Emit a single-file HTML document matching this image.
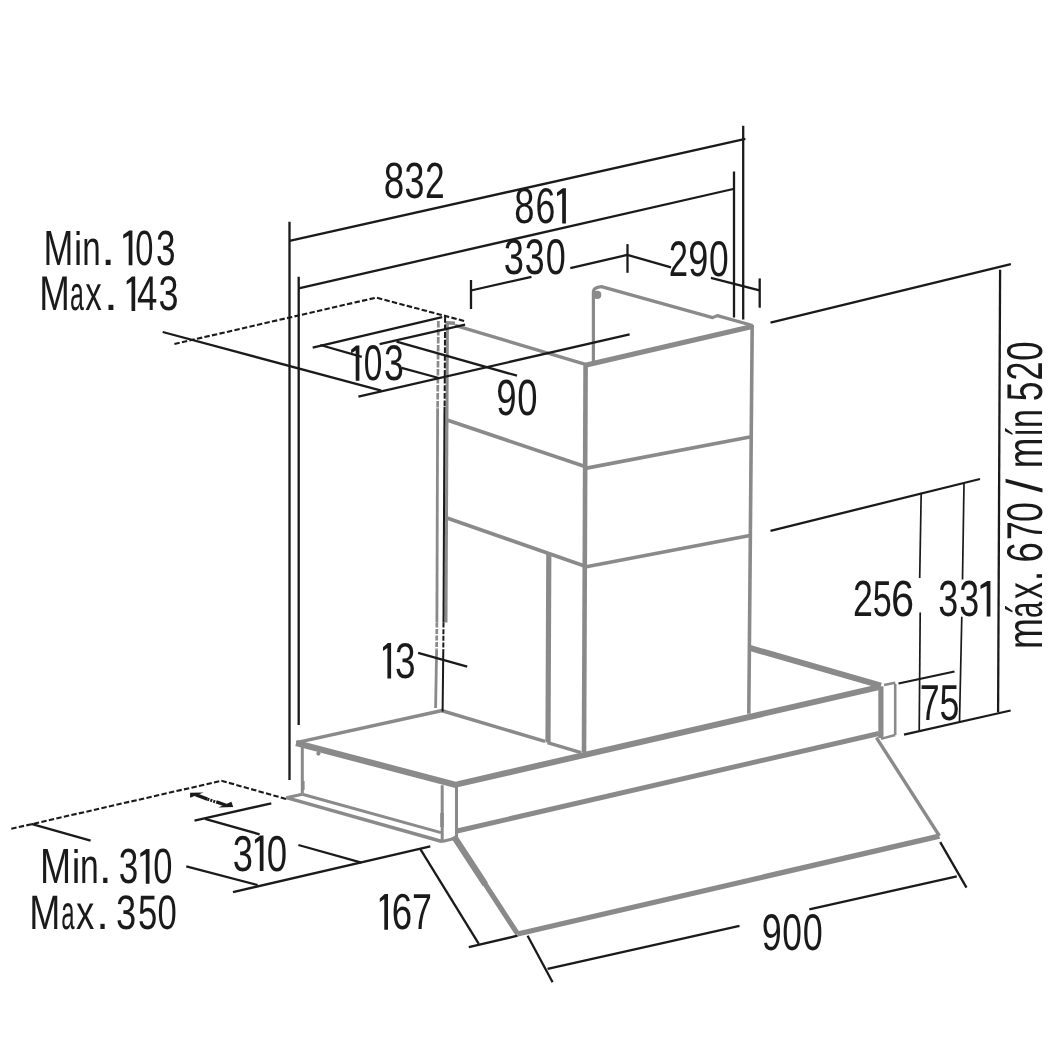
<!DOCTYPE html>
<html><head><meta charset="utf-8"><style>
html,body{margin:0;padding:0;background:#fff;}
svg{display:block;will-change:transform;}
text{font-family:"Liberation Sans",sans-serif;text-rendering:geometricPrecision;}
</style></head><body>
<svg width="1063" height="1063" viewBox="0 0 1063 1063">
<rect width="1063" height="1063" fill="#fff"/>
<path d="M593.4,361.3 L593.4,291.5 Q593.6,287.4 601.4,286.6 L712.6,317.6 L717.3,315.6 L752.6,325.5" fill="none" stroke="#8a8a8a" stroke-width="3.2" stroke-linejoin="round"/>
<circle cx="597.2" cy="294.9" r="4.1" fill="#8a8a8a"/>
<line x1="455" y1="325.4" x2="585.5" y2="364.3" stroke="#8a8a8a" stroke-width="3.4"/>
<path d="M445.4,321 L455,321.5 L455,325 L445.4,324.5Z" fill="#8a8a8a"/>
<line x1="447.4" y1="322.6" x2="446" y2="622.6" stroke="#8a8a8a" stroke-width="3.0"/>
<line x1="585.3" y1="365.2" x2="752.2" y2="326.5" stroke="#8a8a8a" stroke-width="5.0"/>
<line x1="585.6" y1="364" x2="584" y2="752.6" stroke="#8a8a8a" stroke-width="4.6"/>
<line x1="752.2" y1="325" x2="748.8" y2="713.8" stroke="#8a8a8a" stroke-width="3.6"/>
<line x1="447" y1="420" x2="585" y2="466.6" stroke="#8a8a8a" stroke-width="3.7"/>
<line x1="585.3" y1="468.4" x2="751.2" y2="436.8" stroke="#8a8a8a" stroke-width="3.7"/>
<line x1="446.3" y1="517.7" x2="584.5" y2="566" stroke="#8a8a8a" stroke-width="3.7"/>
<line x1="585" y1="567" x2="749.9" y2="535.5" stroke="#8a8a8a" stroke-width="3.7"/>
<line x1="548.8" y1="553" x2="548" y2="742.6" stroke="#8a8a8a" stroke-width="5.2"/>
<line x1="547.5" y1="742.6" x2="581" y2="752.6" stroke="#8a8a8a" stroke-width="3.4"/>
<line x1="441.3" y1="710.5" x2="545" y2="741.4" stroke="#8a8a8a" stroke-width="3.4"/>
<line x1="438.4" y1="321" x2="437.6" y2="408.3" stroke="#8a8a8a" stroke-width="2.7" stroke-dasharray="6.5,1.5"/>
<line x1="437.6" y1="408.3" x2="436.9" y2="622.6" stroke="#8a8a8a" stroke-width="2.8"/>
<line x1="436.9" y1="622.6" x2="436.6" y2="649.7" stroke="#8a8a8a" stroke-width="2.7" stroke-dasharray="5,1.5"/>
<line x1="436.6" y1="649.7" x2="435.6" y2="708" stroke="#8a8a8a" stroke-width="2.8"/>
<line x1="296.3" y1="742.6" x2="442.2" y2="710.5" stroke="#8a8a8a" stroke-width="3.4"/>
<line x1="296.1" y1="743" x2="457" y2="785.2" stroke="#8a8a8a" stroke-width="6.3"/>
<line x1="457" y1="784.3" x2="880.1" y2="686.8" stroke="#8a8a8a" stroke-width="6.0"/>
<line x1="749" y1="647.7" x2="881" y2="685.7" stroke="#8a8a8a" stroke-width="6.0"/>
<line x1="880.9" y1="686.3" x2="880.9" y2="738" stroke="#8a8a8a" stroke-width="5.2"/>
<line x1="895.2" y1="683.8" x2="895.2" y2="735" stroke="#8a8a8a" stroke-width="2.6"/>
<line x1="880.9" y1="738.8" x2="895.2" y2="735" stroke="#8a8a8a" stroke-width="2.4"/>
<line x1="884" y1="685" x2="895.2" y2="682.7" stroke="#8a8a8a" stroke-width="2.4"/>
<line x1="456" y1="831.2" x2="878.9" y2="733.5" stroke="#8a8a8a" stroke-width="5.0"/>
<line x1="453.8" y1="836.3" x2="485.2" y2="884.3" stroke="#8a8a8a" stroke-width="6.3"/>
<line x1="484.5" y1="883.2" x2="517.6" y2="933.9" stroke="#8a8a8a" stroke-width="5.2"/>
<line x1="876.4" y1="737.6" x2="939.4" y2="835.8" stroke="#8a8a8a" stroke-width="3.4"/>
<line x1="517.6" y1="934" x2="939.4" y2="836.2" stroke="#8a8a8a" stroke-width="5.3"/>
<line x1="302.3" y1="746.8" x2="302.3" y2="793.3" stroke="#8a8a8a" stroke-width="3.0"/>
<line x1="286.3" y1="797.7" x2="442" y2="841.5" stroke="#8a8a8a" stroke-width="3.4"/>
<line x1="302.3" y1="794.2" x2="441" y2="832.6" stroke="#8a8a8a" stroke-width="3.0"/>
<line x1="286.3" y1="797.7" x2="302.3" y2="794.2" stroke="#8a8a8a" stroke-width="3.0"/>
<line x1="442.2" y1="785.2" x2="442.2" y2="841.5" stroke="#8a8a8a" stroke-width="3.0"/>
<line x1="456.5" y1="783.4" x2="456.5" y2="838" stroke="#8a8a8a" stroke-width="3.0"/>
<line x1="442" y1="841.5" x2="456.5" y2="838" stroke="#8a8a8a" stroke-width="3.0"/>
<circle cx="318.4" cy="753.6" r="2.1" fill="#8a8a8a"/>
<line x1="289.5" y1="221.7" x2="289.5" y2="780" stroke="#1a1a1a" stroke-width="2.3"/>
<line x1="298.7" y1="276.7" x2="298.7" y2="725" stroke="#1a1a1a" stroke-width="2.3"/>
<line x1="289.5" y1="240.8" x2="745.4" y2="138.9" stroke="#1a1a1a" stroke-width="2.3"/>
<line x1="298.7" y1="288.3" x2="733.2" y2="189" stroke="#1a1a1a" stroke-width="2.3"/>
<line x1="743.2" y1="125.8" x2="743.2" y2="319.5" stroke="#1a1a1a" stroke-width="2.3"/>
<line x1="734" y1="171.5" x2="734" y2="317.5" stroke="#1a1a1a" stroke-width="2.3"/>
<line x1="471" y1="280" x2="471" y2="309" stroke="#1a1a1a" stroke-width="2.3"/>
<line x1="471" y1="290.5" x2="531.5" y2="276.8" stroke="#1a1a1a" stroke-width="2.3"/>
<line x1="570.3" y1="268.1" x2="627.4" y2="254.9" stroke="#1a1a1a" stroke-width="2.3"/>
<line x1="627.5" y1="244.1" x2="627.5" y2="272.8" stroke="#1a1a1a" stroke-width="2.3"/>
<line x1="627.4" y1="254.9" x2="671" y2="267.4" stroke="#1a1a1a" stroke-width="2.3"/>
<line x1="710.9" y1="277.9" x2="759.5" y2="290.3" stroke="#1a1a1a" stroke-width="2.3"/>
<line x1="759.7" y1="278.4" x2="759.7" y2="307.7" stroke="#1a1a1a" stroke-width="2.3"/>
<line x1="770.5" y1="322.6" x2="1010.9" y2="264.2" stroke="#1a1a1a" stroke-width="2.3"/>
<line x1="1000.1" y1="269.8" x2="998.1" y2="712.2" stroke="#1a1a1a" stroke-width="2.3"/>
<line x1="770.5" y1="530.8" x2="980" y2="479" stroke="#1a1a1a" stroke-width="2.3"/>
<line x1="921.2" y1="492.8" x2="919.7" y2="578" stroke="#1a1a1a" stroke-width="1.7"/>
<line x1="920.2" y1="612.4" x2="919.2" y2="730.5" stroke="#1a1a1a" stroke-width="1.7"/>
<line x1="964" y1="483.8" x2="962.5" y2="579.5" stroke="#1a1a1a" stroke-width="1.7"/>
<line x1="961.8" y1="616.8" x2="959.5" y2="722.6" stroke="#1a1a1a" stroke-width="1.7"/>
<line x1="898.5" y1="683.5" x2="954.5" y2="671.5" stroke="#1a1a1a" stroke-width="2.3"/>
<line x1="904" y1="734.6" x2="1010.6" y2="710.5" stroke="#1a1a1a" stroke-width="2.3"/>
<line x1="358.4" y1="396.7" x2="629.6" y2="334.3" stroke="#1a1a1a" stroke-width="2.3"/>
<line x1="162.7" y1="332" x2="381.3" y2="390.7" stroke="#1a1a1a" stroke-width="2.3"/>
<line x1="396.5" y1="341.6" x2="517" y2="375.7" stroke="#1a1a1a" stroke-width="2.3"/>
<line x1="312.7" y1="347.6" x2="442.2" y2="317.1" stroke="#1a1a1a" stroke-width="2.3"/>
<line x1="379.6" y1="344.2" x2="465.1" y2="324.7" stroke="#1a1a1a" stroke-width="2.3"/>
<line x1="320.3" y1="345" x2="361.8" y2="356.9" stroke="#1a1a1a" stroke-width="2.3"/>
<line x1="401.6" y1="367.9" x2="438.8" y2="378" stroke="#1a1a1a" stroke-width="2.3"/>
<polyline points="174.4,344 376.2,297.6 464.5,321.1" fill="none" stroke="#1a1a1a" stroke-width="2.1" stroke-dasharray="5.4,2.3"/>
<polyline points="11.3,828.8 221.5,780.8 288,799.5" fill="none" stroke="#1a1a1a" stroke-width="2.1" stroke-dasharray="5.4,2.3"/>
<line x1="31.3" y1="823.8" x2="90.6" y2="840.6" stroke="#1a1a1a" stroke-width="2.3"/>
<line x1="194.5" y1="820.6" x2="271.3" y2="803.3" stroke="#1a1a1a" stroke-width="2.3"/>
<line x1="205" y1="818.8" x2="259.6" y2="834.3" stroke="#1a1a1a" stroke-width="2.3"/>
<line x1="298.4" y1="845" x2="361.4" y2="862.6" stroke="#1a1a1a" stroke-width="2.3"/>
<line x1="233" y1="892.1" x2="430.3" y2="846.3" stroke="#1a1a1a" stroke-width="2.3"/>
<line x1="186.3" y1="866.4" x2="257.6" y2="885.1" stroke="#1a1a1a" stroke-width="2.3"/>
<line x1="420.2" y1="848.8" x2="478.8" y2="943.9" stroke="#1a1a1a" stroke-width="2.3"/>
<line x1="468.8" y1="947.2" x2="517.6" y2="935.7" stroke="#1a1a1a" stroke-width="2.3"/>
<line x1="527.6" y1="935.7" x2="552.6" y2="982.2" stroke="#1a1a1a" stroke-width="2.3"/>
<line x1="547.6" y1="968.9" x2="739.5" y2="925.9" stroke="#1a1a1a" stroke-width="2.3"/>
<line x1="809.3" y1="909.3" x2="956.8" y2="876.3" stroke="#1a1a1a" stroke-width="2.3"/>
<line x1="940.2" y1="842.2" x2="966.5" y2="887.7" stroke="#1a1a1a" stroke-width="2.3"/>
<line x1="418.1" y1="652.8" x2="467.2" y2="666.6" stroke="#1a1a1a" stroke-width="2.3"/>
<line x1="445.1" y1="316.9" x2="444.6" y2="407" stroke="#1a1a1a" stroke-width="2.0" stroke-dasharray="5.8,1.8"/>
<line x1="444.5" y1="407" x2="443.5" y2="622.6" stroke="#1a1a1a" stroke-width="2.0"/>
<line x1="443.5" y1="622.6" x2="443.3" y2="649.7" stroke="#1a1a1a" stroke-width="2.0" stroke-dasharray="5,1.6"/>
<line x1="443.3" y1="649.7" x2="442.6" y2="711.5" stroke="#1a1a1a" stroke-width="2.0"/>
<path d="M190.05,792.7 L203.6,792.4 L190.05,797.8Z" fill="#1a1a1a"/>
<line x1="195.5" y1="794.6" x2="207.4" y2="799.1" stroke="#1a1a1a" stroke-width="3.3"/>
<line x1="207.4" y1="799.1" x2="216.6" y2="802.3" stroke="#1a1a1a" stroke-width="3.0" stroke-dasharray="2.0,1.1"/>
<line x1="216.4" y1="801.9" x2="226" y2="805.2" stroke="#1a1a1a" stroke-width="3.3"/>
<path d="M231.4,801.8 L233.2,807.1 L218.3,807.5Z" fill="#1a1a1a"/>
<rect x="301" y="781" width="3.6" height="9" fill="#8a8a8a"/>
<rect x="440.2" y="813" width="3.6" height="14" fill="#8a8a8a"/>
<g fill="#1a1a1a" font-family="Liberation Sans">
<text transform="translate(383.64,197.79) scale(0.7219,1)" font-size="50.99">8</text>
<text transform="translate(404.56,197.79) scale(0.7052,1)" font-size="50.99">3</text>
<text transform="translate(424.93,197.79) scale(0.6940,1)" font-size="50.99">2</text>
<text transform="translate(514.26,223.00) scale(0.7256,1)" font-size="50.14">8</text>
<text transform="translate(535.52,223.00) scale(0.7110,1)" font-size="50.14">6</text>
<path d="M565.90,188.20 L565.90,223.50 L562.20,223.50 L562.20,193.20 L557.00,196.20 L557.00,192.50 L562.70,188.20Z"/>
<text transform="translate(503.84,274.30) scale(0.7277,1)" font-size="50.00">3</text>
<text transform="translate(524.87,274.30) scale(0.7149,1)" font-size="50.00">3</text>
<text transform="translate(545.66,274.30) scale(0.7200,1)" font-size="50.00">0</text>
<text transform="translate(668.86,275.70) scale(0.6926,1)" font-size="50.14">2</text>
<text transform="translate(688.37,275.70) scale(0.7206,1)" font-size="50.14">9</text>
<text transform="translate(708.99,275.70) scale(0.7054,1)" font-size="50.14">0</text>
<text transform="translate(43.43,264.71) scale(0.7267,1)" font-size="49.30">M</text>
<text transform="translate(73.92,264.71) scale(0.7438,0.95)" font-size="49.30">i</text>
<text transform="translate(82.24,264.71) scale(0.6730,1)" font-size="49.30">n</text>
<text transform="translate(100.96,264.71) scale(1.0463,1)" font-size="49.30">.</text>
<path d="M132.40,230.50 L132.40,265.20 L128.70,265.20 L128.70,235.50 L123.20,238.50 L123.20,234.80 L129.20,230.50Z"/>
<text transform="translate(135.29,264.71) scale(0.6620,1)" font-size="49.30">0</text>
<text transform="translate(156.10,264.71) scale(0.7122,1)" font-size="49.30">3</text>
<text transform="translate(39.16,310.41) scale(0.7534,1)" font-size="48.73">M</text>
<text transform="translate(69.88,310.41) scale(0.5110,1)" font-size="48.73">a</text>
<text transform="translate(85.31,310.41) scale(0.6767,1)" font-size="48.73">x</text>
<text transform="translate(103.76,310.41) scale(1.0584,1)" font-size="48.73">.</text>
<path d="M135.20,276.60 L135.20,310.90 L131.50,310.90 L131.50,281.60 L126.70,284.60 L126.70,280.90 L132.00,276.60Z"/>
<text transform="translate(137.09,310.41) scale(0.7510,1)" font-size="48.73">4</text>
<text transform="translate(158.46,310.41) scale(0.7379,1)" font-size="48.73">3</text>
<path d="M359.40,345.50 L359.40,380.70 L355.70,380.70 L355.70,350.50 L351.10,353.50 L351.10,349.80 L356.20,345.50Z"/>
<text transform="translate(363.86,380.20) scale(0.6695,1)" font-size="50.00">0</text>
<text transform="translate(383.97,380.20) scale(0.7149,1)" font-size="50.00">3</text>
<text transform="translate(496.15,414.99) scale(0.7210,1)" font-size="50.70">9</text>
<text transform="translate(517.24,414.99) scale(0.7183,1)" font-size="50.70">0</text>
<path d="M391.10,643.00 L391.10,678.40 L387.40,678.40 L387.40,648.00 L383.00,651.00 L383.00,647.30 L387.90,643.00Z"/>
<text transform="translate(395.02,677.90) scale(0.7363,1)" font-size="50.28">3</text>
<text transform="translate(853.11,616.09) scale(0.7065,1)" font-size="50.70">2</text>
<text transform="translate(872.64,616.09) scale(0.6726,1)" font-size="50.70">5</text>
<text transform="translate(890.92,616.09) scale(0.8189,1)" font-size="50.70">6</text>
<text transform="translate(938.16,616.09) scale(0.7092,1)" font-size="50.70">3</text>
<text transform="translate(959.36,616.09) scale(0.7092,1)" font-size="50.70">3</text>
<path d="M990.40,580.90 L990.40,616.60 L986.70,616.60 L986.70,585.90 L980.50,588.90 L980.50,585.20 L987.20,580.90Z"/>
<text transform="translate(919.81,719.90) scale(0.7105,1)" font-size="50.42">7</text>
<text transform="translate(939.57,719.90) scale(0.7098,1)" font-size="50.42">5</text>
<text transform="translate(40.01,883.31) scale(0.7548,1)" font-size="49.44">M</text>
<text transform="translate(71.67,883.31) scale(0.7866,0.95)" font-size="49.44">i</text>
<text transform="translate(80.11,883.31) scale(0.6806,1)" font-size="49.44">n</text>
<text transform="translate(99.03,883.31) scale(0.9156,1)" font-size="49.44">.</text>
<text transform="translate(118.80,883.31) scale(0.7101,1)" font-size="49.44">3</text>
<path d="M149.50,849.00 L149.50,883.80 L145.80,883.80 L145.80,854.00 L140.30,857.00 L140.30,853.30 L146.30,849.00Z"/>
<text transform="translate(153.22,883.31) scale(0.6984,1)" font-size="49.44">0</text>
<text transform="translate(29.31,929.02) scale(0.7724,1)" font-size="48.31">M</text>
<text transform="translate(61.22,929.02) scale(0.4952,1)" font-size="48.31">a</text>
<text transform="translate(76.05,929.02) scale(0.7575,1)" font-size="48.31">x</text>
<text transform="translate(96.13,929.02) scale(0.9369,1)" font-size="48.31">.</text>
<text transform="translate(115.94,929.02) scale(0.7531,1)" font-size="48.31">3</text>
<text transform="translate(138.11,929.02) scale(0.7190,1)" font-size="48.31">5</text>
<text transform="translate(157.41,929.02) scale(0.7190,1)" font-size="48.31">0</text>
<text transform="translate(232.64,870.50) scale(0.7216,1)" font-size="50.42">3</text>
<path d="M263.50,835.50 L263.50,871.00 L259.80,871.00 L259.80,840.50 L254.90,843.50 L254.90,839.80 L260.30,835.50Z"/>
<text transform="translate(266.63,870.50) scale(0.7265,1)" font-size="50.42">0</text>
<path d="M388.00,894.10 L388.00,929.70 L384.30,929.70 L384.30,899.10 L379.80,902.10 L379.80,898.40 L384.80,894.10Z"/>
<text transform="translate(391.66,929.19) scale(0.7266,1)" font-size="50.56">6</text>
<text transform="translate(411.91,929.19) scale(0.7085,1)" font-size="50.56">7</text>
<text transform="translate(761.68,950.29) scale(0.6986,1)" font-size="51.41">9</text>
<text transform="translate(782.29,950.29) scale(0.6880,1)" font-size="51.41">0</text>
<text transform="translate(802.66,950.29) scale(0.7003,1)" font-size="51.41">0</text>
<text transform="translate(1041.50,649.12) rotate(-90) scale(0.7415,1)" font-size="50.28">m</text>
<text transform="translate(1041.50,618.11) rotate(-90) scale(0.5810,1)" font-size="50.28">á</text>
<text transform="translate(1041.50,599.10) rotate(-90) scale(0.6686,1)" font-size="50.28">x</text>
<text transform="translate(1041.50,581.21) rotate(-90) scale(0.7536,1)" font-size="50.28">.</text>
<text transform="translate(1041.50,562.53) rotate(-90) scale(0.7263,1)" font-size="50.28">6</text>
<text transform="translate(1041.50,540.07) rotate(-90) scale(0.6644,1)" font-size="50.28">7</text>
<text transform="translate(1041.50,522.02) rotate(-90) scale(0.7076,1)" font-size="50.28">0</text>
<text transform="translate(1041.50,492.60) rotate(-90) scale(0.9835,1)" font-size="50.28">/</text>
<text transform="translate(1041.50,468.20) rotate(-90) scale(0.7330,1)" font-size="50.28">m</text>
<text transform="translate(1041.50,436.84) rotate(-90) scale(0.6251,1)" font-size="50.28">í</text>
<text transform="translate(1041.50,428.02) rotate(-90) scale(0.6785,1)" font-size="50.28">n</text>
<text transform="translate(1041.50,401.31) rotate(-90) scale(0.7034,1)" font-size="50.28">5</text>
<text transform="translate(1041.50,380.50) rotate(-90) scale(0.6775,1)" font-size="50.28">2</text>
<text transform="translate(1041.50,360.79) rotate(-90) scale(0.6908,1)" font-size="50.28">0</text>
</g>
</svg>
</body></html>
